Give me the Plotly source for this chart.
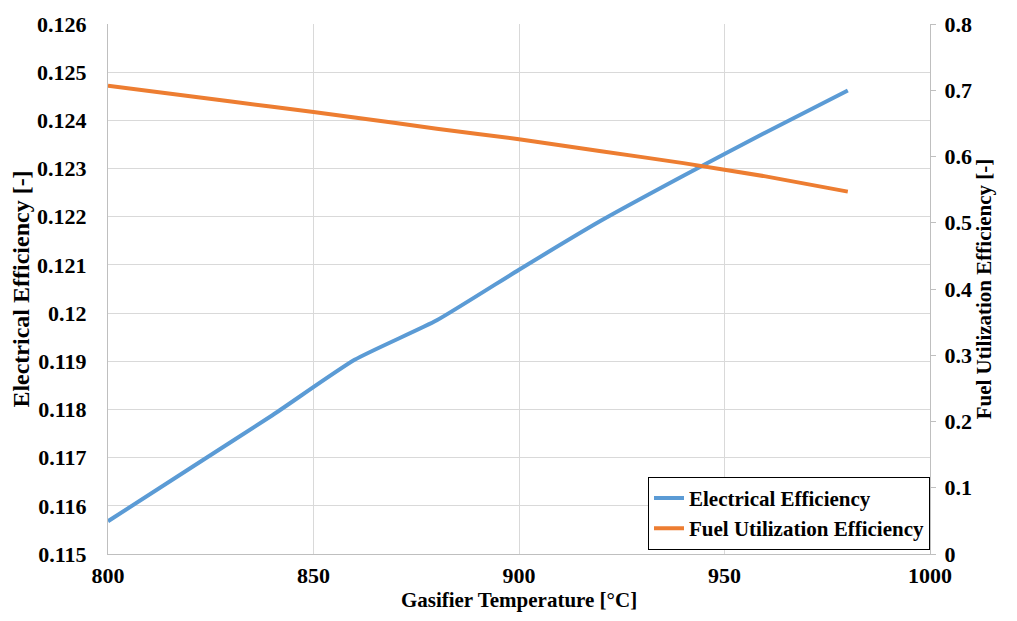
import plotly.graph_objects as go

temps = [800, 820, 840, 860, 880, 900, 920, 940, 960, 980]
elec_eff = [0.11568, 0.11678, 0.11788, 0.11903, 0.11985, 0.12090, 0.12192, 0.12285, 0.12375, 0.12462]
fuel_eff = [0.707, 0.691, 0.675, 0.659, 0.642, 0.626, 0.608, 0.590, 0.570, 0.547]

left_ticks = [0.115, 0.116, 0.117, 0.118, 0.119, 0.12, 0.121, 0.122, 0.123, 0.124, 0.125, 0.126]
left_labels = ["0.115", "0.116", "0.117", "0.118", "0.119", "0.12", "0.121", "0.122", "0.123", "0.124", "0.125", "0.126"]
right_ticks = [0, 0.1, 0.2, 0.3, 0.4, 0.5, 0.6, 0.7, 0.8]
right_labels = ["0", "0.1", "0.2", "0.3", "0.4", "0.5", "0.6", "0.7", "0.8"]
x_ticks = [800, 850, 900, 950, 1000]

FONT = "Times New Roman, Liberation Serif, DejaVu Serif, serif"
fig = go.Figure()
fig.add_trace(go.Scatter(x=temps, y=elec_eff, mode="lines", name="Electrical Efficiency",
                         line=dict(color="#5B9BD5", width=4, shape="spline", smoothing=0.5)))
fig.add_trace(go.Scatter(x=temps, y=fuel_eff, mode="lines", name="Fuel Utilization Efficiency",
                         line=dict(color="#ED7D31", width=4, shape="spline", smoothing=0.5), yaxis="y2"))

tickfont = dict(family=FONT, size=22, color="black", weight="bold")
fig.update_layout(
    width=1017, height=621,
    margin=dict(l=108, r=87, t=16, b=67),
    paper_bgcolor="white", plot_bgcolor="white",
    font=dict(family=FONT, color="black", weight="bold"),
    xaxis=dict(range=[800, 1000], tickvals=x_ticks, showgrid=True, gridcolor="#d9d9d9", gridwidth=1,
               showline=True, linecolor="#bfbfbf", linewidth=1, ticks="", zeroline=False,
               tickfont=tickfont, ticklabelstandoff=2,
               title=dict(text="Gasifier Temperature [°C]",
                          font=dict(family=FONT, size=21, color="black", weight="bold"), standoff=2)),
    yaxis=dict(range=[0.115, 0.126], tickvals=left_ticks, ticktext=left_labels,
               showgrid=True, gridcolor="#d9d9d9", gridwidth=1, showline=True, linecolor="#bfbfbf",
               ticks="", zeroline=False, tickfont=tickfont, ticklabelstandoff=16,
               title=dict(text="Electrical Efficiency [-]",
                          font=dict(family=FONT, size=24, color="black", weight="bold"), standoff=0)),
    yaxis2=dict(range=[0, 0.8], tickvals=right_ticks, ticktext=right_labels,
                overlaying="y", side="right", showgrid=False, showline=True, linecolor="#bfbfbf",
                ticks="outside", ticklen=5, tickcolor="#bfbfbf", zeroline=False, tickfont=tickfont,
                ticklabelstandoff=4,
                title=dict(text="Fuel Utilization Efficiency [-]",
                           font=dict(family=FONT, size=21, color="black", weight="bold"), standoff=4)),
    legend=dict(x=1.0, y=0.008, xanchor="right", yanchor="bottom", bgcolor="white",
                bordercolor="black", borderwidth=1,
                font=dict(family=FONT, size=21, color="black", weight="bold"),
                tracegroupgap=0, itemwidth=30),
    showlegend=True,
)
fig.write_html("out.html")
